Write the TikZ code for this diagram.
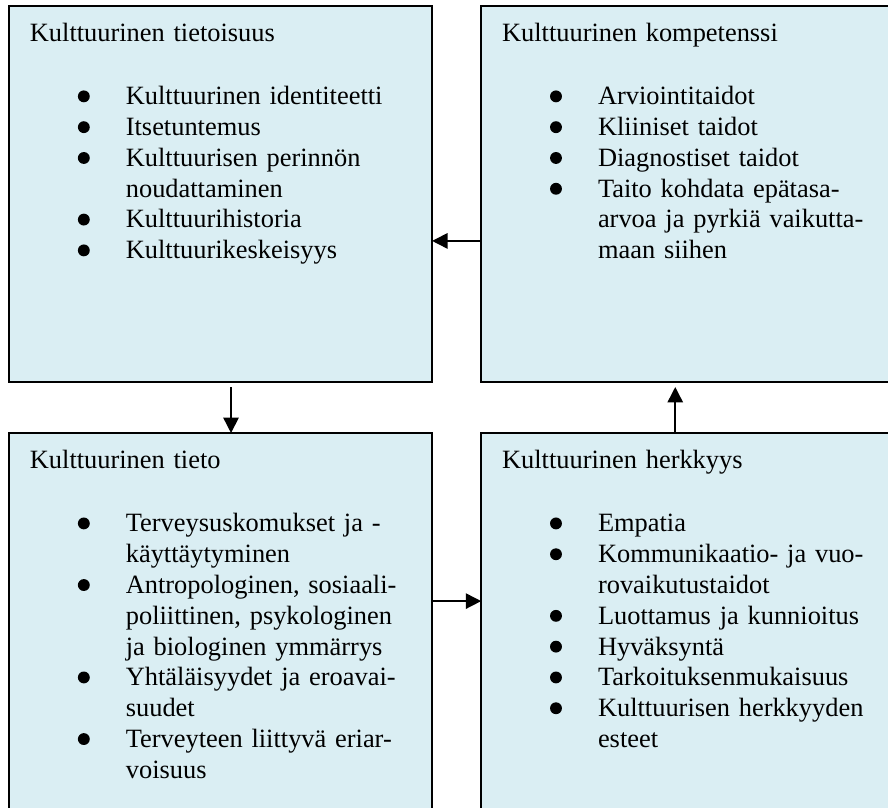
\documentclass[tikz,border=0pt]{standalone}
\usepackage{fontspec}
\setmainfont{Liberation Serif}
\usepackage{enumitem}
\usetikzlibrary{arrows.meta, positioning}

\definecolor{vaaleansininen}{RGB}{218,238,243}

% justified line of the right-hand boxes
\newcommand{\tasattu}[1]{\makebox[127.3pt][s]{#1}}
% bullet of the lists
\newcommand{\pallo}{\tikz[baseline = -3.8pt] \fill (0,0) circle [radius = 2.7pt];}

\setlist[itemize]{nosep, topsep = 14.6pt, leftmargin = 43.6pt, labelindent = 21.8pt,
    labelwidth = 21.8pt, labelsep = 0pt, align = left, label = \pallo}

\begin{document}
\begin{tikzpicture}[
            x = 1pt, y = 1pt,
            > = {Triangle[length = 7pt, width = 7pt]}, % arrow head style
            laatikko/.style = {
                draw = black,
                line width = 0.8pt,
                fill = vaaleansininen,
                minimum width = 192.3pt,
                inner sep = 0pt,
                outer sep = 0pt
            },
            teksti/.style = {
                inner sep = 0pt,
                outer sep = 0pt,
                text width = 178pt,
                align = left,
                font = \fontsize{12pt}{14pt}\selectfont
            },
            nuoli/.style = {->, line width = 0.7pt}
        ]

        \path[use as bounding box, clip] (0,0) rectangle (403.6,-366.8);

        % boxes
        \node[laatikko, minimum height = 170.9pt, anchor = north west] (tietoisuus) at (4.1,-2.7) {};
        \node[laatikko, minimum height = 170.9pt, right = 22.3pt of tietoisuus] (kompetenssi) {};
        \node[laatikko, minimum height = 180pt, below = 23.2pt of tietoisuus] (tieto) {};
        \node[laatikko, minimum height = 180pt, right = 22.3pt of tieto] (herkkyys) {};

        % texts
        \node[teksti, below right = 6.5pt and 9.5pt of tietoisuus.north west] (tietoisuus-teksti) {%
            \strut Kulttuurinen tietoisuus
            \begin{itemize}
                \item Kulttuurinen identiteetti
                \item Itsetuntemus
                \item Kulttuurisen perinnön\\ noudattaminen
                \item Kulttuurihistoria
                \item Kulttuurikeskeisyys
            \end{itemize}};
        \node[teksti, below right = 6.5pt and 9.5pt of kompetenssi.north west] (kompetenssi-teksti) {%
            \strut Kulttuurinen kompetenssi
            \begin{itemize}
                \item Arviointitaidot
                \item Kliiniset taidot
                \item Diagnostiset taidot
                \item \tasattu{Taito kohdata epätasa-}\\ \tasattu{arvoa ja pyrkiä vaikutta-}\\ maan siihen
            \end{itemize}};
        \node[teksti, below right = 6.5pt and 9.5pt of tieto.north west] (tieto-teksti) {%
            \strut Kulttuurinen tieto
            \begin{itemize}
                \item Terveysuskomukset ja -\\ käyttäytyminen
                \item Antropologinen, sosiaali-\\ poliittinen, psykologinen\\ ja biologinen ymmärrys
                \item Yhtäläisyydet ja eroavai-\\ suudet
                \item Terveyteen liittyvä eriar-\\ voisuus
            \end{itemize}};
        \node[teksti, below right = 6.5pt and 9.5pt of herkkyys.north west] (herkkyys-teksti) {%
            \strut Kulttuurinen herkkyys
            \begin{itemize}
                \item Empatia
                \item \tasattu{Kommunikaatio- ja vuo-}\\ rovaikutustaidot
                \item Luottamus ja kunnioitus
                \item Hyväksyntä
                \item Tarkoituksenmukaisuus
                \item \tasattu{Kulttuurisen herkkyyden}\\ esteet
            \end{itemize}};

        % arrows
        \draw[nuoli] ([yshift = -106.8pt]kompetenssi.north west) -- ([yshift = -106.8pt]tietoisuus.north east);
        \draw[nuoli, shorten <= 2.3pt] ([xshift = 100.9pt]tietoisuus.south west) -- ([xshift = 100.9pt]tieto.north west);
        \draw[nuoli, shorten > = 2.3pt] ([xshift = 88.2pt]herkkyys.north west) -- ([xshift = 88.2pt]kompetenssi.south west);
        \draw[nuoli] ([yshift = -76.4pt]tieto.north east) -- ([yshift = -76.4pt]herkkyys.north west);

  \end{tikzpicture}
\end{document}
